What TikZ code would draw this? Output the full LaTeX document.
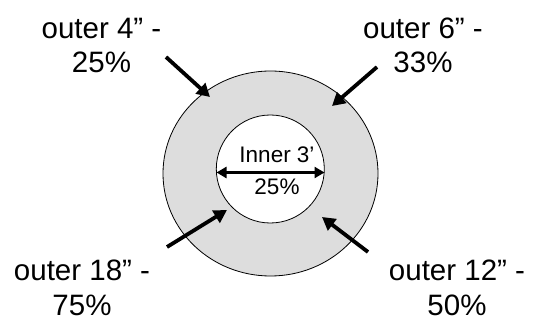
\documentclass[tikz,border=0pt]{standalone}
\usepackage{fontspec}
\setmainfont{Liberation Sans}
\usetikzlibrary{arrows.meta}
\begin{document}
\begin{tikzpicture}[x=1pt,y=-1pt,
  lbl/.style={align=center,inner sep=0pt,anchor=base,font=\fontsize{29.5}{34.5}\selectfont},
  ptr/.style={line width=3.8pt,-{Triangle[length=13pt,width=14pt]}},
  dbl/.style={line width=3pt,{Triangle[length=10pt,width=11pt]}-{Triangle[length=10pt,width=11pt]}}]
\useasboundingbox (0,0) rectangle (533,320);
\draw[fill={rgb,255:red,221;green,221;blue,221},line width=0.8pt] (270.5,173.5) ellipse [x radius=107.5, y radius=102.5];
\node[circle,draw,fill=white,line width=0.8pt,minimum size=108pt,inner sep=0pt] (inner) at (270.3,169) {};
\node[lbl] (tl) at (101.5,72.7) {outer 4” -\\25\%};
\node[lbl] (tr) at (423,72.7) {outer 6” -\\33\%};
\node[lbl] (bl) at (82,315.5) {outer 18” -\\75\%};
\node[lbl] (br) at (457,315.5) {outer 12” -\\50\%};
\node[align=center,inner sep=0pt,anchor=base,font=\fontsize{22.5}{32}\selectfont] (il) at (277,195) {Inner 3’\\25\%};
\coordinate (dl) at (216.5,172.5);
\coordinate (dr) at (324.5,172.5);
\draw[dbl] (dl) -- (dr);
\coordinate (a1) at (166,57); \coordinate (b1) at (210,97);
\coordinate (a2) at (377,67); \coordinate (b2) at (332,106);
\coordinate (a3) at (167,247); \coordinate (b3) at (227,210);
\coordinate (a4) at (368,252); \coordinate (b4) at (322,217);
\draw[ptr] (a1) -- (b1);
\draw[ptr] (a2) -- (b2);
\draw[ptr] (a3) -- (b3);
\draw[ptr] (a4) -- (b4);
\end{tikzpicture}
\end{document}
